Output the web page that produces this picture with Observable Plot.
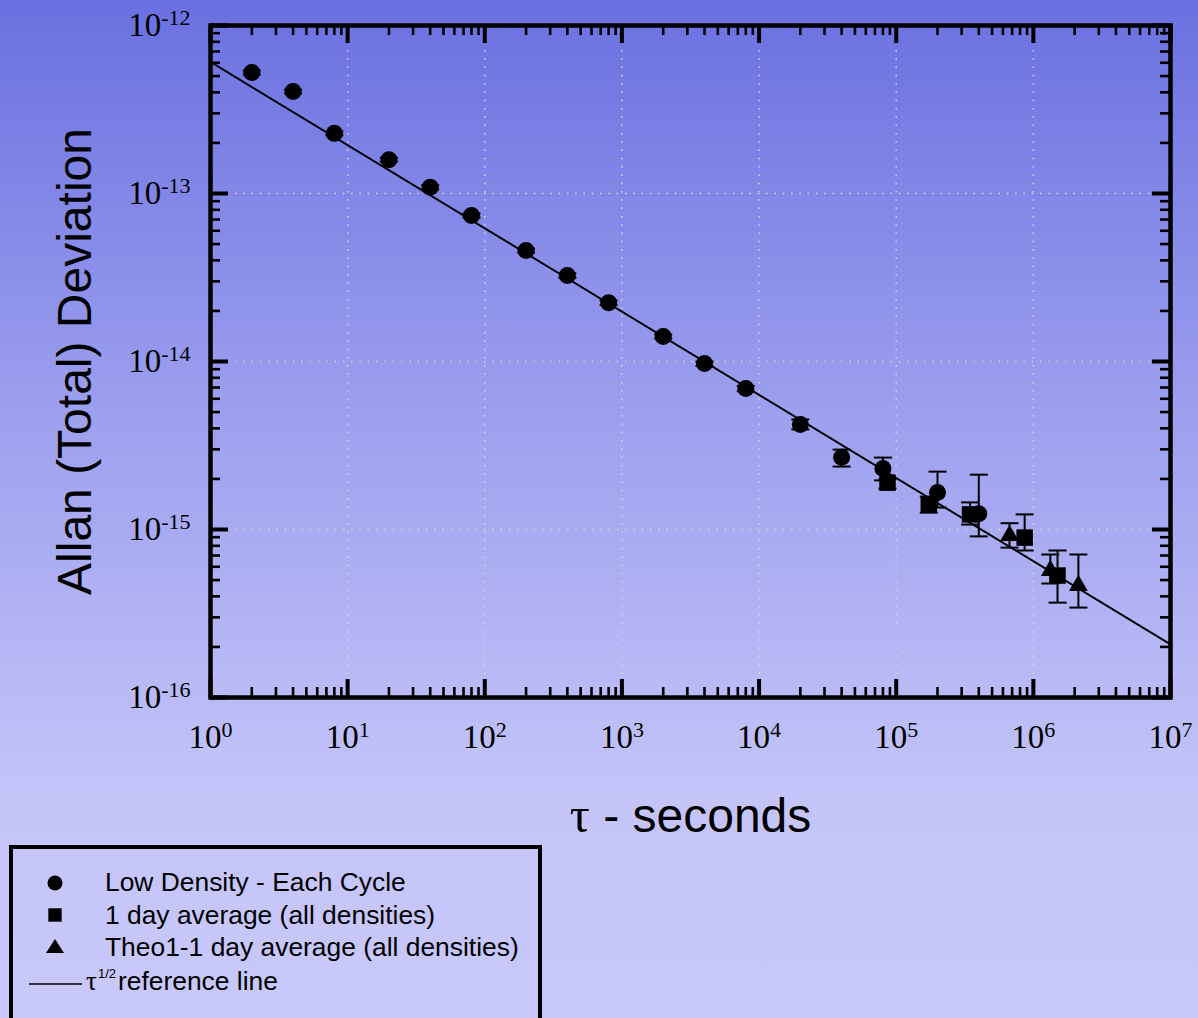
<!DOCTYPE html>
<html>
<head>
<meta charset="utf-8">
<script src="https://cdn.jsdelivr.net/npm/d3@7"></script>
<script src="https://cdn.jsdelivr.net/npm/@observablehq/plot@0.6"></script>
<style>
  html, body { margin: 0; padding: 0; }
  body {
    width: 1198px; height: 1018px; overflow: hidden; position: relative;
    background: linear-gradient(to bottom, #6a70e0 0%, #9c9fee 40%, #c4c4f9 78%, #c8c8fb 100%);
    font-family: "Liberation Sans", Arial, sans-serif;
  }
  #chart { position: absolute; left: 0; top: 0; }
  #legend { position: absolute; left: 0; top: 840px; }
</style>
</head>
<body>
<div id="chart"></div>
<div id="legend"></div>
<script>
// ---------- data ----------
const circleTau  = [2, 4, 8, 20, 40, 80, 200, 400, 800, 2000, 4000, 8000, 20000, 40000, 80000, 200000, 400000];
const circleAdev = [5.25e-13, 4.05e-13, 2.28e-13, 1.59e-13, 1.09e-13, 7.4e-14, 4.58e-14, 3.25e-14, 2.24e-14, 1.41e-14, 9.73e-15, 6.9e-15, 4.22e-15, 2.69e-15, 2.31e-15, 1.66e-15, 1.24e-15];
const circleLo   = [5.1e-13, 3.95e-13, 2.22e-13, 1.55e-13, 1.06e-13, 7.2e-14, 4.45e-14, 3.15e-14, 2.17e-14, 1.37e-14, 9.4e-15, 6.65e-15, 3.94e-15, 2.37e-15, 1.96e-15, 1.35e-15, 9.1e-16];
const circleHi   = [5.4e-13, 4.15e-13, 2.34e-13, 1.63e-13, 1.12e-13, 7.6e-14, 4.7e-14, 3.35e-14, 2.31e-14, 1.45e-14, 1.0e-14, 7.15e-15, 4.52e-15, 2.99e-15, 2.68e-15, 2.21e-15, 2.12e-15];

const squareTau  = [86400, 172800, 345600, 864000, 1500000];
const squareAdev = [1.9e-15, 1.41e-15, 1.23e-15, 8.95e-16, 5.32e-16];
const squareLo   = [1.75e-15, 1.26e-15, 1.07e-15, 7.5e-16, 3.67e-16];
const squareHi   = [1.99e-15, 1.57e-15, 1.45e-15, 1.23e-15, 7.5e-16];

const triTau  = [670000, 1330000, 2130000];
const triAdev = [9.2e-16, 5.7e-16, 4.64e-16];
const triLo   = [7.8e-16, 4.77e-16, 3.43e-16];
const triHi   = [1.09e-15, 7.1e-16, 7.1e-16];

const refTau  = [1, 1e7];
const refAdev = [6.07e-13, 2.07e-16];

const xDecades = [1, 10, 100, 1e3, 1e4, 1e5, 1e6, 1e7];
const yDecades = [1e-16, 1e-15, 1e-14, 1e-13, 1e-12];
const minorMultipliers = [2, 3, 4, 5, 6, 7, 8, 9];

const legendLabels = ["Low Density - Each Cycle", "1 day average (all densities)", "Theo1-1 day average (all densities)", "reference line"];
const xTitle = "τ - seconds";
const yTitle = "Allan (Total) Deviation";

// ---------- build tables ----------
const mk = (tau, v, lo, hi) => tau.map((t, i) => ({tau: t, adev: v[i], lo: lo[i], hi: hi[i]}));
const circles = mk(circleTau, circleAdev, circleLo, circleHi);
const squares = mk(squareTau, squareAdev, squareLo, squareHi);
const triangles = mk(triTau, triAdev, triLo, triHi);
const allPts = [...circles, ...squares, ...triangles];
const refLine = refTau.map((t, i) => ({tau: t, adev: refAdev[i]}));
const xMinor = xDecades.slice(0, -1).flatMap(d => minorMultipliers.map(k => k * d));
const yMinor = yDecades.slice(0, -1).flatMap(d => minorMultipliers.map(k => k * d));

const W = 1198, Hsvg = 845;
const mL = 210, mR = 28, mT = 25, mB = 148;
const innerW = W - mL - mR, innerH = Hsvg - mT - mB;
const serif = "'Liberation Serif', 'Times New Roman', serif";
const sans = "'Liberation Sans', Arial, sans-serif";

const capSymbol = {
  draw(ctx, size) {
    const w = Math.sqrt(size / Math.PI);
    ctx.moveTo(-w, 0); ctx.lineTo(w, 0);
  }
};

const supFmt = d => "10^" + Math.round(Math.log10(d));
const gridStyle = {stroke: "#dedac4", strokeOpacity: 0.95, strokeWidth: 1.5, strokeDasharray: "1.5,6.8"};

const svg = Plot.plot({
  width: W, height: Hsvg,
  marginLeft: mL, marginRight: mR, marginTop: mT, marginBottom: mB,
  style: {background: "transparent", overflow: "visible", fontFamily: sans},
  x: {type: "log", domain: [1, 1e7]},
  y: {type: "log", domain: [1e-16, 1e-12]},
  marks: [
    Plot.gridX(xDecades.slice(1, -1), gridStyle),
    Plot.gridY(yDecades.slice(1, -1), gridStyle),
    Plot.line(refLine, {x: "tau", y: "adev", stroke: "black", strokeWidth: 1.9}),
    Plot.ruleX(allPts, {x: "tau", y1: "lo", y2: "hi", stroke: "black", strokeWidth: 2}),
    Plot.dot(allPts, {x: "tau", y: "lo", symbol: capSymbol, r: 9, stroke: "black", fill: "none", strokeWidth: 2}),
    Plot.dot(allPts, {x: "tau", y: "hi", symbol: capSymbol, r: 9, stroke: "black", fill: "none", strokeWidth: 2}),
    Plot.dot(circles, {x: "tau", y: "adev", symbol: "circle", r: 8.5, fill: "black", stroke: "none"}),
    Plot.dot(squares, {x: "tau", y: "adev", symbol: "square", r: 9.3, fill: "black", stroke: "none"}),
    Plot.dot(triangles, {x: "tau", y: "adev", symbol: "triangle", r: 7, fill: "black", stroke: "none"}),
    // inward ticks: bottom / top
    Plot.tickX(xDecades, {x: d => d, insetTop: innerH - 18, stroke: "black", strokeWidth: 4}),
    Plot.tickX(xMinor, {x: d => d, insetTop: innerH - 10, stroke: "black", strokeWidth: 2.6}),
    Plot.tickX(xDecades, {x: d => d, insetBottom: innerH - 18, stroke: "black", strokeWidth: 4}),
    Plot.tickX(xMinor, {x: d => d, insetBottom: innerH - 10, stroke: "black", strokeWidth: 2.6}),
    // inward ticks: left / right
    Plot.tickY(yDecades, {y: d => d, insetRight: innerW - 18, stroke: "black", strokeWidth: 4}),
    Plot.tickY(yMinor, {y: d => d, insetRight: innerW - 10, stroke: "black", strokeWidth: 2.6}),
    Plot.tickY(yDecades, {y: d => d, insetLeft: innerW - 18, stroke: "black", strokeWidth: 4}),
    Plot.tickY(yMinor, {y: d => d, insetLeft: innerW - 10, stroke: "black", strokeWidth: 2.6}),
    Plot.frame({stroke: "black", strokeWidth: 4.5}),
    Plot.axisX(xDecades, {tickSize: 0, tickPadding: 27.5, tickFormat: supFmt, fontSize: 33, fontFamily: serif, fill: "black", label: null}),
    Plot.axisY(yDecades, {tickSize: 0, tickPadding: 20, tickFormat: supFmt, fontSize: 33, fontFamily: serif, fill: "black", label: null}),
    Plot.text([yTitle], {frameAnchor: "left", textAnchor: "middle", lineAnchor: "middle", dx: -135, rotate: -90, fontSize: 48, fontFamily: sans, fill: "black"}),
    Plot.text([xTitle], {frameAnchor: "bottom", textAnchor: "middle", lineAnchor: "middle", dy: 119, fontSize: 48, fontFamily: sans, fill: "black"})
  ]
});

const NS = "http://www.w3.org/2000/svg";
svg.querySelectorAll("text").forEach(t => {
  // superscript exponents in tick labels
  const m = /^10\^(-?\d+)$/.exec(t.textContent);
  if (m) {
    t.textContent = "10";
    const s = document.createElementNS(NS, "tspan");
    s.setAttribute("font-size", "22");
    s.setAttribute("dy", "-11");
    s.textContent = m[1];
    t.appendChild(s);
    return;
  }
  // serif tau in the x title
  if (t.textContent === xTitle) {
    t.textContent = "";
    const a = document.createElementNS(NS, "tspan");
    a.setAttribute("font-family", serif);
    a.setAttribute("font-size", "50");
    a.textContent = xTitle.slice(0, 1);
    const b = document.createElementNS(NS, "tspan");
    b.textContent = xTitle.slice(1);
    t.appendChild(a); t.appendChild(b);
  }
});
document.getElementById("chart").appendChild(svg);

// ---------- legend ----------
const lg = d3.select("#legend").append("svg").attr("width", W).attr("height", 178);
const oy = -840;
lg.append("rect").attr("x", 11).attr("y", 847 + oy).attr("width", 529).attr("height", 300)
  .attr("fill", "none").attr("stroke", "black").attr("stroke-width", 4);
lg.append("circle").attr("cx", 55).attr("cy", 883 + oy).attr("r", 7.5).attr("fill", "black");
lg.append("rect").attr("x", 48.3).attr("y", 908.3 + oy).attr("width", 13.4).attr("height", 13.4).attr("fill", "black");
lg.append("path").attr("d", `M46,${953 + oy}L64,${953 + oy}L55,${939 + oy}Z`).attr("fill", "black");
lg.append("line").attr("x1", 29).attr("x2", 82).attr("y1", 984 + oy).attr("y2", 984 + oy).attr("stroke", "black").attr("stroke-width", 1.6);
const baselines = [891, 923.5, 956];
legendLabels.slice(0, 3).forEach((s, i) => {
  lg.append("text").attr("x", 105).attr("y", baselines[i] + oy).attr("font-size", 26.4).attr("font-family", sans).attr("fill", "black").text(s);
});
const t4 = lg.append("text").attr("x", 86).attr("y", 990 + oy).attr("font-size", 26.4).attr("font-family", sans).attr("fill", "black");
t4.append("tspan").attr("font-family", serif).attr("font-size", 27).text("τ");
t4.append("tspan").attr("x", 98).attr("font-size", 13).attr("dy", -12).text("1/2");
t4.append("tspan").attr("x", 118).attr("dy", 12).text(legendLabels[3]);
</script>
</body>
</html>
